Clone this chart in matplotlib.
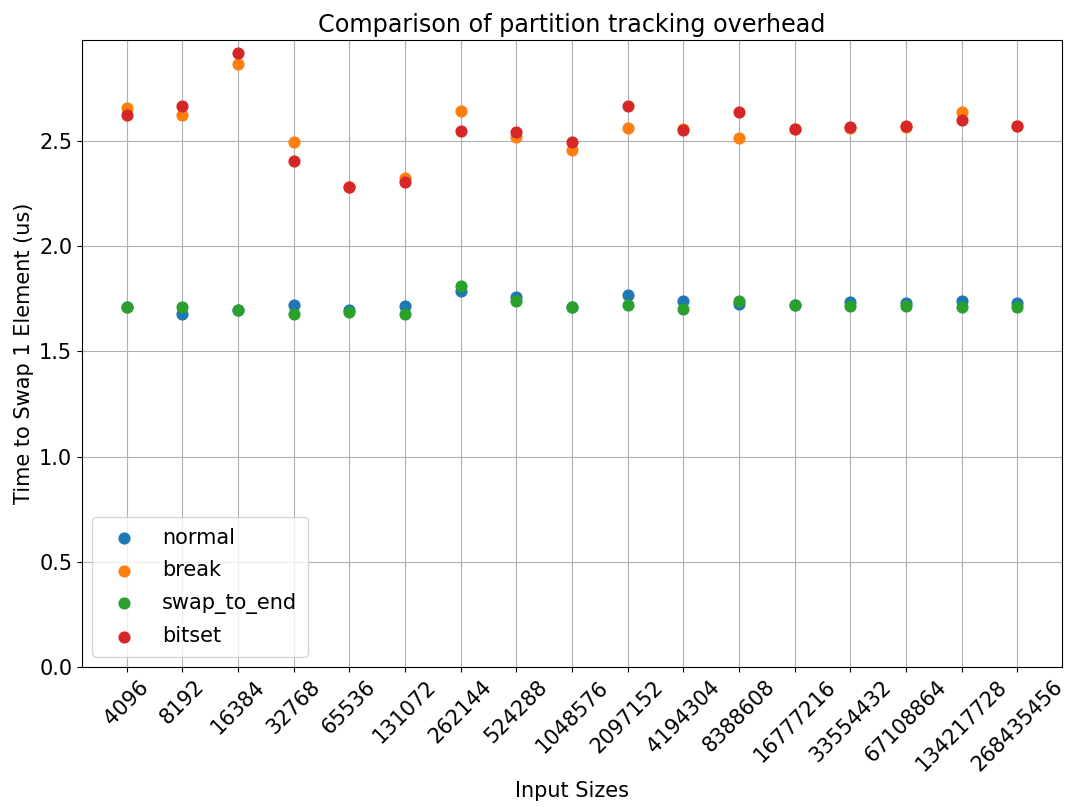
import matplotlib.pyplot as plt

sizes = ["4096", "8192", "16384", "32768", "65536", "131072", "262144", "524288",
         "1048576", "2097152", "4194304", "8388608", "16777216", "33554432",
         "67108864", "134217728", "268435456"]

normal = [1.710, 1.676, 1.695, 1.719, 1.695, 1.714, 1.786, 1.757, 1.710,
          1.767, 1.738, 1.724, 1.719, 1.733, 1.729, 1.738, 1.729]
brk = [2.657, 2.624, 2.867, 2.495, 2.281, 2.324, 2.643, 2.519, 2.457,
       2.562, 2.557, 2.514, 2.557, 2.562, 2.567, 2.638, 2.571]
swap_to_end = [1.710, 1.710, 1.695, 1.676, 1.686, 1.676, 1.810, 1.738, 1.710,
               1.719, 1.702, 1.738, 1.719, 1.714, 1.714, 1.710, 1.710]
bitset = [2.624, 2.667, 2.919, 2.405, 2.281, 2.305, 2.548, 2.543, 2.495,
          2.667, 2.552, 2.638, 2.557, 2.567, 2.571, 2.600, 2.571]

plt.rcParams["font.size"] = 15

fig = plt.figure(figsize=(10.72, 8.07), dpi=100)
ax = fig.add_axes([0.0765, 0.1735, 0.914, 0.777])

ax.scatter(sizes, normal, s=60, label="normal", zorder=3)
ax.scatter(sizes, brk, s=60, label="break", zorder=3)
ax.scatter(sizes, swap_to_end, s=60, label="swap_to_end", zorder=3)
ax.scatter(sizes, bitset, s=60, label="bitset", zorder=3)

ax.set_ylim(bottom=0)
ax.grid(True, color="#b0b0b0")
ax.set_axisbelow(True)
ax.set_title("Comparison of partition tracking overhead", fontsize=17.2)
ax.set_xlabel("Input Sizes")
ax.set_ylabel("Time to Swap 1 Element (us)")
plt.setp(ax.get_xticklabels(), rotation=45)
ax.legend(loc="lower left", labelspacing=0.6, handletextpad=0.85, borderpad=0.5)

fig.savefig("out.png")
